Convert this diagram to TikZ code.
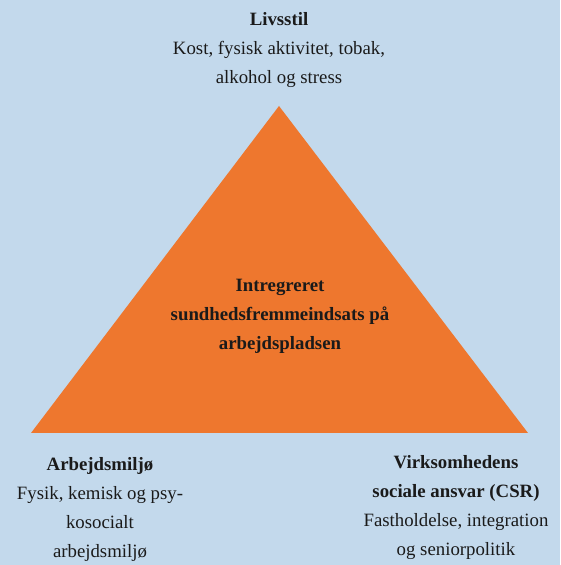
\documentclass[tikz,border=0pt]{standalone}
\usepackage{fontspec}
\setmainfont{Liberation Serif}
\definecolor{bgblue}{HTML}{C3D9EC}
\definecolor{triorange}{HTML}{EE772E}
\definecolor{txt}{HTML}{1A1A1A}
\begin{document}
\begin{tikzpicture}[x=1pt,y=1pt,
  lbl/.style={align=center,inner sep=0pt,text=txt,font=\fontsize{18.8}{29}\selectfont}]
\fill[bgblue] (0,0) rectangle (560,565);
\useasboundingbox (0,0) rectangle (560,565);
\coordinate (apex) at (279,459);
\coordinate (bl) at (31,132);
\coordinate (br) at (528,132);
\fill[triorange] (apex) -- (bl) -- (br) -- cycle;
\node[lbl] (top) at (279,515) {\textbf{Livsstil}\\Kost, fysisk aktivitet, tobak,\\alkohol og stress};
\node[lbl] (mid) at (280,249) {\textbf{Intregreret}\\\textbf{sundhedsfremmeindsats på}\\\textbf{arbejdspladsen}};
\node[lbl] (left) at (100,56) {\textbf{Arbejdsmiljø}\\Fysik, kemisk og psy-\\kosocialt\\arbejdsmiljø};
\node[lbl] (right) at (456,57.5) {\textbf{Virksomhedens}\\\textbf{sociale ansvar (CSR)}\\Fastholdelse, integration\\og seniorpolitik};
\end{tikzpicture}
\end{document}
